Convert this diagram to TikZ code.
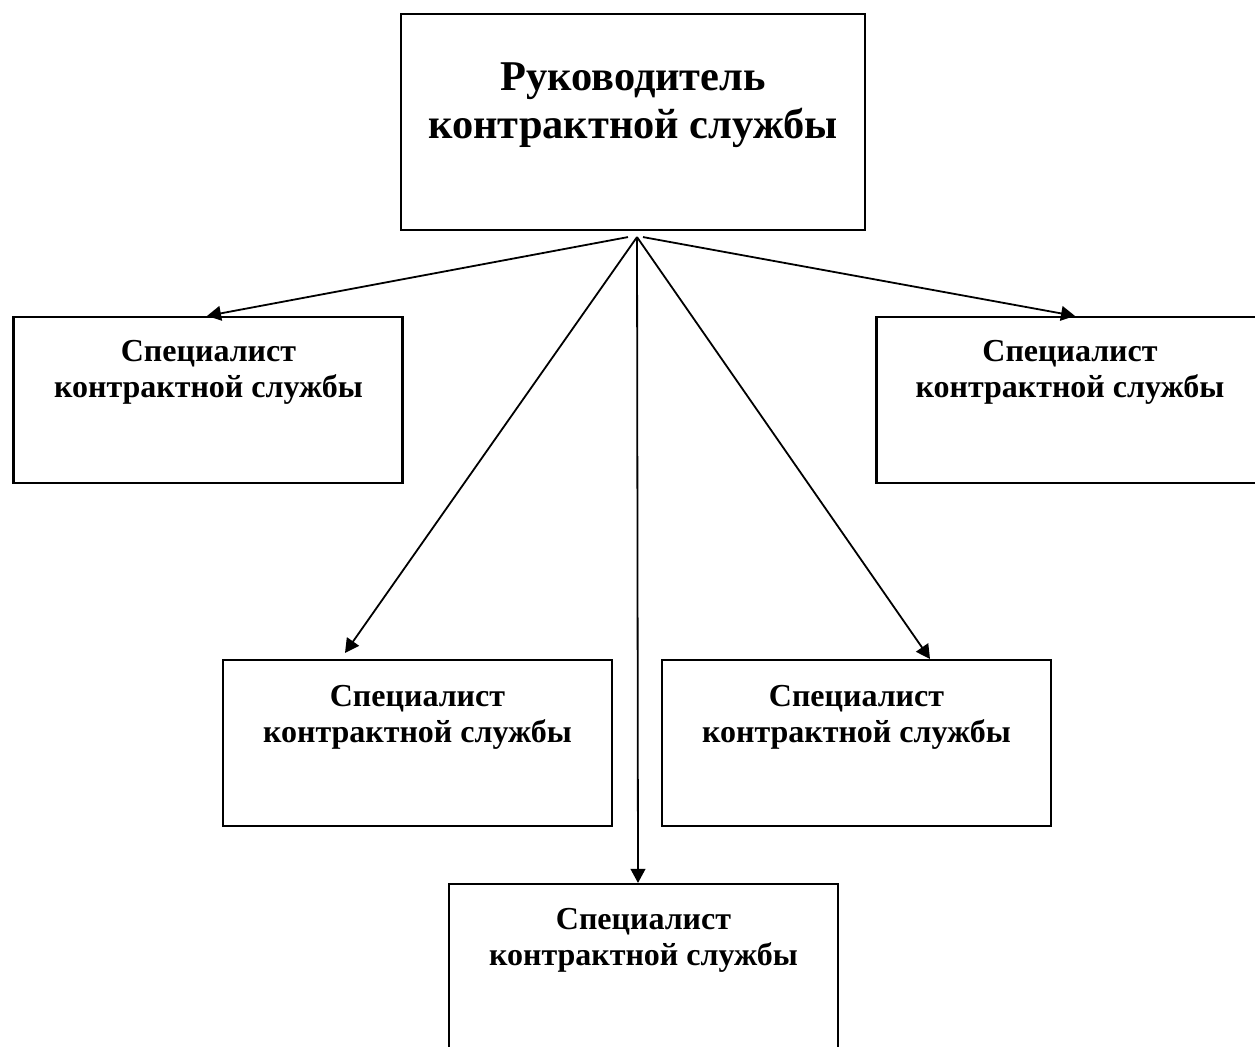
\documentclass[tikz,border=0pt]{standalone}
\usepackage{fontspec}
\setmainfont{Liberation Serif}
\usetikzlibrary{arrows.meta,calc}
\begin{document}
\begin{tikzpicture}[x=0.75pt,y=-0.75pt,
  box/.style={draw,line width=1.6pt,minimum width=291.75pt,minimum height=124.5pt,inner sep=0pt},
  topbox/.style={draw,line width=1.6pt,minimum width=348pt,minimum height=162pt,inner sep=0pt},
  lbl/.style={anchor=north,inner sep=0pt,align=center,font=\bfseries\fontsize{24}{27}\selectfont},
  biglbl/.style={anchor=north,inner sep=0pt,align=center,font=\bfseries\fontsize{31.8}{36}\selectfont},
  conn/.style={line width=1.35pt,-{Triangle[length=10.5pt,width=11pt]}}]
\clip (0,0) rectangle (1255,1046);
\fill[white] (0,0) rectangle (1255,1046);
% boxes
\node[topbox] (top) at (633,122) {};
\node[box] (s1) at (208,400) {};
\node[box] (s5) at (1071,400) {};
\node[box] (s2) at (417.5,743) {};
\node[box] (s4) at (856.5,743) {};
\node[box] (s3) at (643.5,967) {};
% labels
\node[biglbl] (ttop) at (633,62) {Руководитель\\контрактной службы};
\node[lbl] (t1) at (208.5,340) {Специалист\\контрактной службы};
\node[lbl] (t5) at (1070,340) {Специалист\\контрактной службы};
\node[lbl] (t2) at (417.5,685) {Специалист\\контрактной службы};
\node[lbl] (t4) at (856.5,685) {Специалист\\контрактной службы};
\node[lbl] (t3) at (643.5,908) {Специалист\\контрактной службы};
% hub points under the top box
\coordinate (hL) at ($(top.south)+(-5,6)$);
\coordinate (hC) at ($(top.south)+(4,6)$);
\coordinate (hR) at ($(top.south)+(10,6)$);
% connectors
\draw[conn] (hL) -- ($(s1.north)+(-1,0)$);
\draw[conn] (hR) -- ($(s5.north)+(4,0)$);
\draw[conn] (hC) -- ($(s2.north)+(-72.5,-6)$);
\draw[conn] (hC) -- ($(s4.north)+(73.5,0)$);
\draw[conn] (hC) -- ($(s3.north)+(-5.5,0)$);
\end{tikzpicture}
\end{document}
